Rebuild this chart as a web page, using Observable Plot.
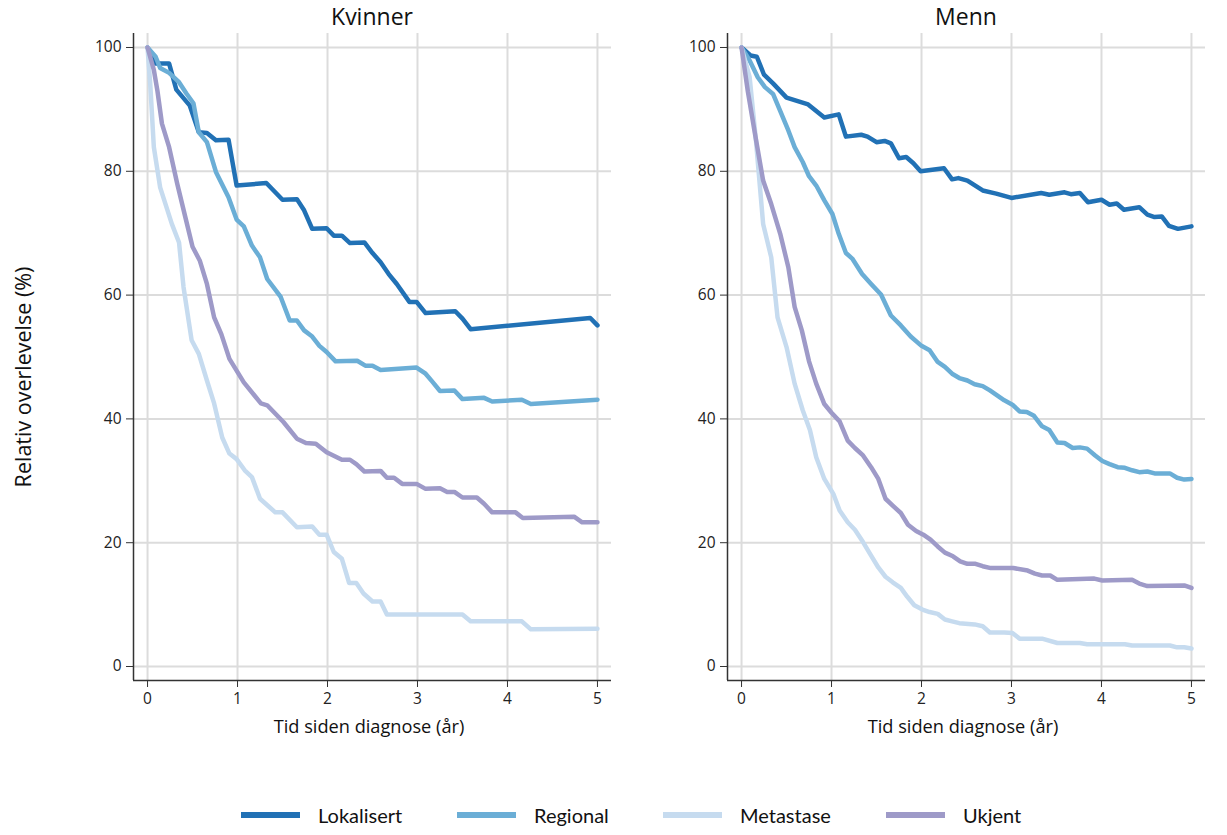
<!DOCTYPE html>
<html>
<head>
<meta charset="utf-8">
<script src="https://cdn.jsdelivr.net/npm/d3@7"></script>
<script src="https://cdn.jsdelivr.net/npm/@observablehq/plot@0.6"></script>
<style>
  html, body { margin: 0; padding: 0; background: #fff; }
  #wrap { position: relative; width: 1227px; height: 835px; font-family: "Open Sans", Lato, sans-serif; color: #111; }
  .panel { position: absolute; top: 0; }
  .title { position: absolute; top: 0px; font-size: 23px; transform: translateX(-50%); white-space: nowrap; }
  .xlabel { position: absolute; top: 714px; font-size: 18.2px; transform: translateX(-50%); white-space: nowrap; }
  .ylabel { position: absolute; left: 22px; top: 377px; font-size: 21.5px; transform: translate(-50%, -50%) rotate(-90deg); white-space: nowrap; }
  .leg { position: absolute; top: 803px; display: flex; align-items: center; font-family: Lato, "Open Sans", sans-serif; font-size: 20px; white-space: nowrap; }
  .sw { width: 59px; height: 6px; margin-right: 18px; }
</style>
</head>
<body>
<div id="wrap"></div>
<script>
// ---- data ----
const panels = ["Kvinner", "Menn"];
const categories = ["Lokalisert", "Regional", "Metastase", "Ukjent"];
const colors = ["#2171b5", "#6baed6", "#c6dbef", "#9e9ac8"];
const xTicks = [0, 1, 2, 3, 4, 5];
const yTicks = [0, 20, 40, 60, 80, 100];
const xLabel = "Tid siden diagnose (år)";
const yLabel = "Relativ overlevelse (%)";

// [years since diagnosis, relative survival %]
const kvinnerLokalisert = [[0,100],[0.09,97.4],[0.24,97.4],[0.32,93.2],[0.47,90.6],[0.57,86.3],[0.66,86.2],[0.76,85.0],[0.9,85.1],[0.99,77.7],[1.32,78.1],[1.5,75.4],[1.66,75.5],[1.74,73.7],[1.83,70.7],[1.99,70.8],[2.07,69.6],[2.16,69.6],[2.25,68.4],[2.41,68.5],[2.5,66.8],[2.59,65.3],[2.68,63.4],[2.77,61.8],[2.91,58.9],[2.99,58.9],[3.09,57.1],[3.42,57.4],[3.5,56.2],[3.59,54.5],[4.92,56.3],[5.0,55.1]];
const kvinnerRegional = [[0,100],[0.09,98.5],[0.14,96.7],[0.24,95.9],[0.35,94.4],[0.43,92.6],[0.51,91.0],[0.57,86.3],[0.66,84.7],[0.76,79.9],[0.9,75.8],[0.99,72.2],[1.07,71.1],[1.16,68.0],[1.25,66.1],[1.33,62.6],[1.48,59.7],[1.58,55.9],[1.66,55.9],[1.74,54.3],[1.83,53.3],[1.91,51.8],[1.99,50.8],[2.09,49.3],[2.33,49.4],[2.42,48.6],[2.5,48.6],[2.59,47.9],[2.99,48.3],[3.09,47.3],[3.16,46.1],[3.25,44.5],[3.41,44.6],[3.5,43.2],[3.74,43.4],[3.83,42.8],[4.16,43.1],[4.26,42.4],[5.0,43.1]];
const kvinnerMetastase = [[0,100],[0.03,94.1],[0.07,83.9],[0.14,77.4],[0.27,71.5],[0.35,68.5],[0.40,61.3],[0.49,52.7],[0.57,50.5],[0.66,46.2],[0.74,42.5],[0.83,37.0],[0.91,34.4],[0.99,33.5],[1.08,31.7],[1.16,30.6],[1.25,27.1],[1.42,24.9],[1.5,24.9],[1.66,22.5],[1.83,22.6],[1.91,21.3],[1.99,21.3],[2.07,18.5],[2.16,17.4],[2.24,13.5],[2.32,13.5],[2.4,11.8],[2.5,10.5],[2.59,10.5],[2.66,8.4],[3.5,8.4],[3.59,7.3],[4.16,7.3],[4.26,6.0],[5.0,6.1]];
const kvinnerUkjent = [[0,100],[0.07,96.4],[0.11,93.0],[0.16,87.7],[0.24,83.9],[0.33,78.0],[0.42,72.6],[0.5,67.8],[0.58,65.6],[0.66,61.8],[0.74,56.4],[0.82,53.7],[0.91,49.7],[1.07,45.9],[1.26,42.5],[1.33,42.2],[1.51,39.5],[1.66,36.8],[1.76,36.1],[1.87,36.0],[1.99,34.6],[2.16,33.4],[2.25,33.4],[2.32,32.7],[2.41,31.5],[2.59,31.6],[2.66,30.5],[2.74,30.5],[2.83,29.5],[2.99,29.5],[3.09,28.7],[3.25,28.8],[3.33,28.2],[3.41,28.2],[3.5,27.3],[3.66,27.3],[3.74,26.3],[3.83,24.9],[4.09,24.9],[4.17,24.0],[4.74,24.2],[4.83,23.3],[5.0,23.3]];

const mennLokalisert = [[0,100],[0.1,98.7],[0.17,98.5],[0.25,95.6],[0.35,94.2],[0.5,91.9],[0.74,90.8],[0.92,88.7],[1.08,89.2],[1.16,85.6],[1.33,85.9],[1.4,85.6],[1.5,84.7],[1.59,84.9],[1.66,84.5],[1.75,82.1],[1.83,82.3],[1.91,81.3],[1.99,80.0],[2.25,80.5],[2.34,78.7],[2.41,78.9],[2.51,78.5],[2.68,76.9],[2.83,76.4],[3.0,75.7],[3.33,76.5],[3.42,76.2],[3.59,76.6],[3.66,76.3],[3.76,76.5],[3.85,75.0],[4.0,75.4],[4.09,74.6],[4.17,74.8],[4.25,73.8],[4.42,74.2],[4.51,73.0],[4.59,72.6],[4.67,72.7],[4.75,71.2],[4.85,70.7],[5.0,71.1]];
const mennRegional = [[0,100],[0.09,97.9],[0.18,95.2],[0.26,93.6],[0.35,92.5],[0.42,90.1],[0.52,86.6],[0.59,83.9],[0.68,81.5],[0.75,79.2],[0.83,77.7],[0.92,75.3],[1.01,73.1],[1.08,69.9],[1.16,66.8],[1.23,65.9],[1.34,63.4],[1.44,61.8],[1.55,60.1],[1.66,56.7],[1.77,55.1],[1.88,53.3],[2.0,51.8],[2.09,51.1],[2.18,49.2],[2.26,48.4],[2.34,47.3],[2.42,46.6],[2.51,46.2],[2.59,45.6],[2.68,45.3],[2.76,44.6],[2.84,43.8],[2.92,43.0],[3.01,42.3],[3.09,41.2],[3.17,41.1],[3.25,40.5],[3.34,38.8],[3.42,38.2],[3.51,36.2],[3.59,36.1],[3.68,35.3],[3.76,35.4],[3.84,35.2],[3.93,34.1],[4.01,33.2],[4.09,32.7],[4.18,32.2],[4.26,32.1],[4.34,31.7],[4.42,31.4],[4.51,31.5],[4.59,31.2],[4.76,31.2],[4.84,30.5],[4.92,30.2],[5.0,30.3]];
const mennMetastase = [[0,100],[0.09,95.2],[0.16,85.0],[0.24,71.5],[0.33,66.1],[0.4,56.4],[0.5,51.6],[0.59,45.7],[0.68,41.4],[0.76,38.2],[0.83,33.8],[0.92,30.3],[1.02,27.9],[1.09,25.2],[1.18,23.3],[1.26,22.1],[1.35,20.1],[1.44,17.9],[1.52,16.0],[1.6,14.5],[1.68,13.6],[1.77,12.7],[1.84,11.3],[1.92,9.9],[2.01,9.2],[2.09,8.8],[2.18,8.5],[2.26,7.6],[2.34,7.3],[2.42,7.0],[2.59,6.8],[2.68,6.5],[2.76,5.5],[2.92,5.5],[3.01,5.4],[3.09,4.5],[3.34,4.5],[3.51,3.8],[3.76,3.8],[3.84,3.6],[4.26,3.6],[4.34,3.4],[4.76,3.4],[4.84,3.1],[4.92,3.1],[5.0,2.9]];
const mennUkjent = [[0,100],[0.07,92.9],[0.15,86.0],[0.24,78.5],[0.33,74.7],[0.43,69.9],[0.52,64.5],[0.59,58.1],[0.67,54.3],[0.75,49.3],[0.83,45.7],[0.92,42.4],[1.0,41.0],[1.09,39.6],[1.18,36.5],[1.26,35.3],[1.35,34.1],[1.44,32.2],[1.52,30.3],[1.6,27.1],[1.68,26.0],[1.77,24.8],[1.85,22.9],[1.94,21.9],[2.02,21.3],[2.1,20.5],[2.18,19.4],[2.26,18.4],[2.35,17.8],[2.43,17.0],[2.51,16.6],[2.6,16.6],[2.68,16.2],[2.77,15.9],[3.02,15.9],[3.18,15.5],[3.26,15.0],[3.34,14.7],[3.43,14.7],[3.51,14.0],[3.92,14.2],[4.01,13.9],[4.34,14.0],[4.42,13.4],[4.51,13.0],[4.92,13.1],[5.0,12.7]];

const seriesByPanel = {
  Kvinner: [kvinnerLokalisert, kvinnerRegional, kvinnerMetastase, kvinnerUkjent],
  Menn: [mennLokalisert, mennRegional, mennMetastase, mennUkjent]
};

// ---- build ----
const xDomain = [-0.156, 5.156];
const yDomain = [-2.26, 102.26];
const wrap = document.getElementById("wrap");
const panelLeft = [0, 594];
const PW = 611, PH = 745, ML = 133, MT = 33, MB = 65;

panels.forEach((p, i) => {
  const rows = [];
  seriesByPanel[p].forEach((arr, k) => arr.forEach(([t, v]) => rows.push({t, v, s: categories[k]})));
  const chart = Plot.plot({
    width: PW, height: PH,
    marginLeft: ML, marginRight: 0, marginTop: MT, marginBottom: MB,
    style: {fontFamily: "'Open Sans', Lato, sans-serif", fontSize: "15.5px", color: "#222", background: "transparent"},
    x: {domain: xDomain},
    y: {domain: yDomain},
    color: {domain: categories, range: colors},
    marks: [
      Plot.gridX(xTicks, {stroke: "#dcdcdc", strokeOpacity: 1, strokeWidth: 2}),
      Plot.gridY(yTicks, {stroke: "#dcdcdc", strokeOpacity: 1, strokeWidth: 2}),
      Plot.axisX(xTicks, {tickSize: 7, tickPadding: 5, label: null, stroke: "#333"}),
      Plot.axisY(yTicks, {tickSize: 7, tickPadding: 5, label: null, stroke: "#333"}),
      Plot.ruleX([xDomain[0]], {stroke: "#333", strokeWidth: 1.5}),
      Plot.ruleY([yDomain[0]], {stroke: "#333", strokeWidth: 1.5}),
      Plot.line(rows, {x: "t", y: "v", z: "s", stroke: "s", strokeWidth: 4.5, strokeLinejoin: "round", strokeLinecap: "round"})
    ]
  });
  chart.classList.add("panel");
  chart.style.left = panelLeft[i] + "px";
  wrap.appendChild(chart);

  const cx = panelLeft[i] + ML + (PW - ML) / 2;
  const t = document.createElement("div");
  t.className = "title"; t.textContent = p; t.style.left = cx + "px";
  wrap.appendChild(t);
  const xl = document.createElement("div");
  xl.className = "xlabel"; xl.textContent = xLabel; xl.style.left = (cx - 3) + "px";
  wrap.appendChild(xl);
});

const yl = document.createElement("div");
yl.className = "ylabel"; yl.textContent = yLabel;
wrap.appendChild(yl);

const legLeft = [241, 457, 663, 886];
categories.forEach((c, k) => {
  const item = document.createElement("div");
  item.className = "leg";
  item.style.left = legLeft[k] + "px";
  const sw = document.createElement("span");
  sw.className = "sw"; sw.style.background = colors[k];
  const tx = document.createElement("span");
  tx.textContent = c;
  item.appendChild(sw); item.appendChild(tx);
  wrap.appendChild(item);
});
</script>
</body>
</html>
